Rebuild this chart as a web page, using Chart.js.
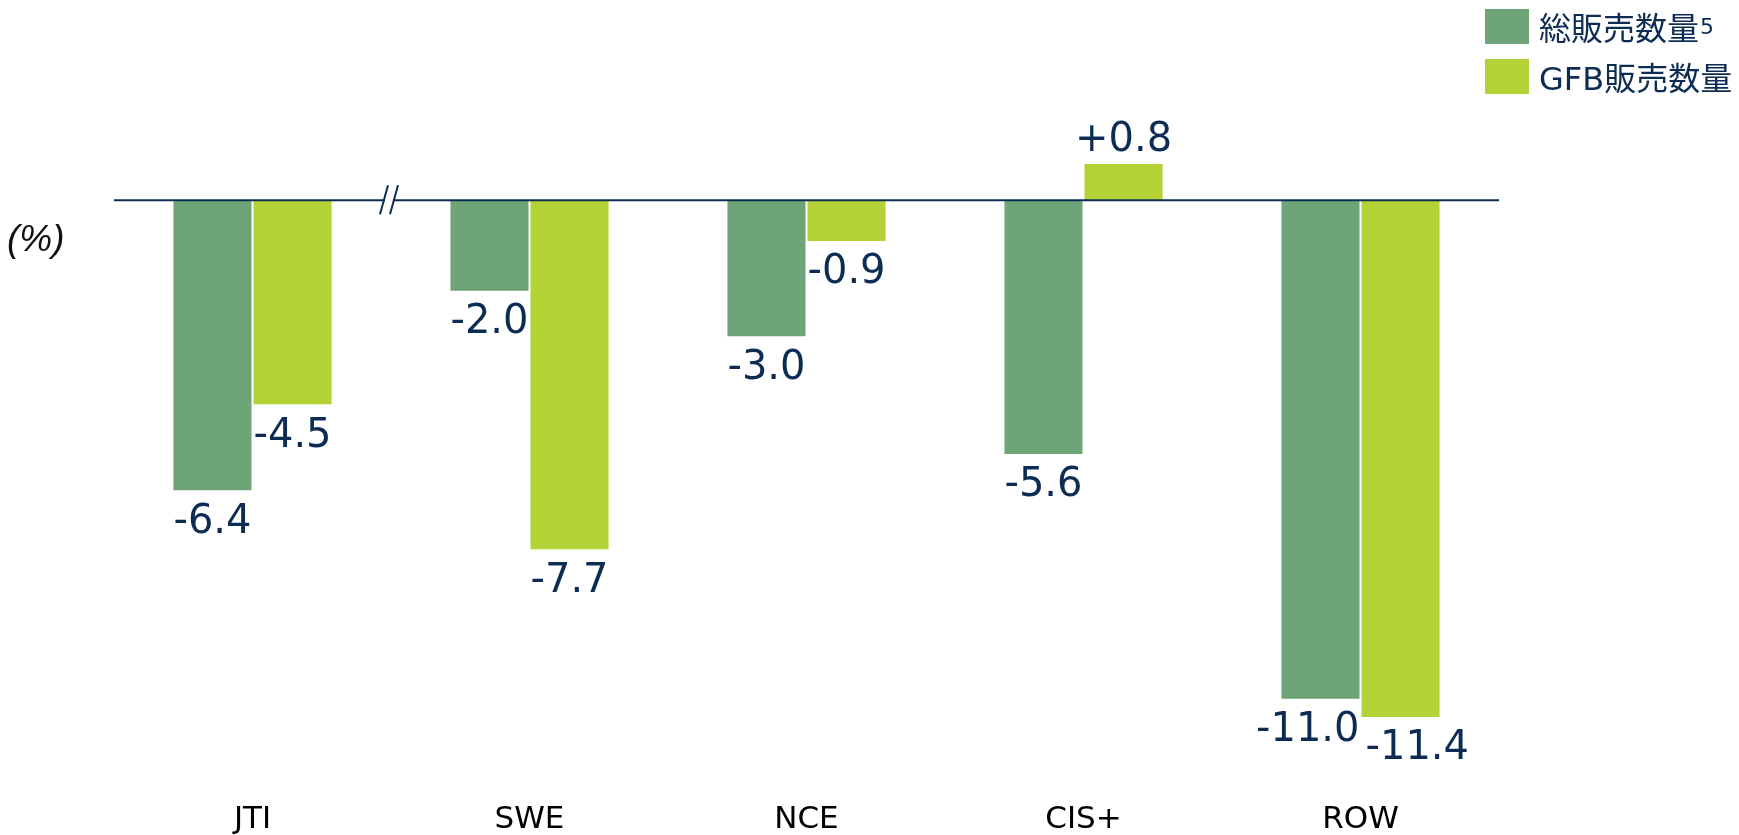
<!DOCTYPE html>
<html>
<head>
<meta charset="utf-8">
<script src="https://cdn.jsdelivr.net/npm/chart.js@4/dist/chart.umd.min.js"></script>
<style>
  body { margin: 0; background: #fff; }
  #wrap { position: relative; width: 1739px; height: 835px; }
  #unit { position: absolute; left: 7px; top: 218px; font: italic 37px "Liberation Sans", sans-serif; color: #111; }
  .lg { position: absolute; left: 1485px; height: 34px; display: flex; align-items: center;
        font: 32px "DejaVu Sans", "Noto Sans CJK JP", sans-serif; color: #0d2c54; white-space: nowrap; }
  .lg span.box { display: inline-block; width: 44px; height: 35px; margin-right: 10px; }
  .lg sup { font-size: 22px; vertical-align: 11px; margin-left: 1px; }
</style>
</head>
<body>
<div id="wrap">
  <canvas id="myChart" width="1739" height="835"></canvas>
  <div id="unit">(%)</div>
  <div class="lg" style="top:9px"><span class="box" style="background:#6fa478"></span>総販売数量<sup>5</sup></div>
  <div class="lg" style="top:59px"><span class="box" style="background:#b2d235"></span>GFB販売数量</div>
</div>
<script>
var categories = ['JTI', 'SWE', 'NCE', 'CIS+', 'ROW'];
var totalVolume = [-6.4, -2.0, -3.0, -5.6, -11.0];
var gfbVolume = [-4.5, -7.7, -0.9, 0.8, -11.4];
var seriesNames = ['総販売数量5', 'GFB販売数量'];

var navy = '#0d2c54';

// zero line, axis break and value labels
var decorations = {
  id: 'decorations',
  afterDatasetsDraw: function (chart) {
    var ctx = chart.ctx;
    var area = chart.chartArea;
    var y0 = chart.scales.y.getPixelForValue(0);
    ctx.save();
    ctx.strokeStyle = navy;
    ctx.lineWidth = 2;
    ctx.beginPath();
    ctx.moveTo(area.left, y0);
    ctx.lineTo(area.right, y0);
    ctx.stroke();

    // break mark between first and second category
    var xs = chart.scales.x;
    var bx = (xs.getPixelForValue(0) + xs.getPixelForValue(1)) / 2 - 2;
    ctx.fillStyle = '#fff';
    ctx.fillRect(bx - 4, y0 - 3, 8, 6);
    ctx.lineWidth = 2;
    [-5, 5].forEach(function (d) {
      ctx.beginPath();
      ctx.moveTo(bx + d - 4, y0 + 14);
      ctx.lineTo(bx + d + 4, y0 - 15);
      ctx.stroke();
    });

    ctx.font = '40px "DejaVu Sans"';
    ctx.fillStyle = navy;
    ctx.textAlign = 'center';
    ctx.textBaseline = 'middle';
    chart.data.datasets.forEach(function (ds, i) {
      chart.getDatasetMeta(i).data.forEach(function (bar, j) {
        var v = ds.data[j];
        var txt = (v > 0 ? '+' : '') + v.toFixed(1);
        var ty = v < 0 ? bar.y + 32 : bar.y - 23;
        var tx = bar.x;
        // wide labels under the bars are pushed away from the neighbour
        var extra = (ctx.measureText(txt).width - bar.width) / 2;
        if (v < 0 && extra > 0) tx += (i === 0 ? -extra : extra + 4);
        ctx.fillText(txt, tx, ty);
      });
    });
    ctx.restore();
  }
};

new Chart(document.getElementById('myChart'), {
  type: 'bar',
  data: {
    labels: categories,
    datasets: [
      { label: seriesNames[0], data: totalVolume, backgroundColor: '#6fa478' },
      { label: seriesNames[1], data: gfbVolume, backgroundColor: '#b2d235' }
    ]
  },
  options: {
    responsive: false,
    animation: false,
    devicePixelRatio: 1,
    categoryPercentage: 0.578,
    barPercentage: 0.975,
    layout: { padding: { left: 114, right: 240, top: 109.5, bottom: 0 } },
    plugins: { legend: { display: false }, tooltip: { enabled: false } },
    scales: {
      x: {
        grid: { display: false },
        border: { display: false },
        ticks: { color: '#000', font: { family: 'DejaVu Sans', size: 31 }, padding: 8 },
        afterFit: function (scale) { scale.height = 50; }
      },
      y: {
        display: false,
        min: -12.9,
        max: 2
      }
    }
  },
  plugins: [decorations]
});
</script>
</body>
</html>
